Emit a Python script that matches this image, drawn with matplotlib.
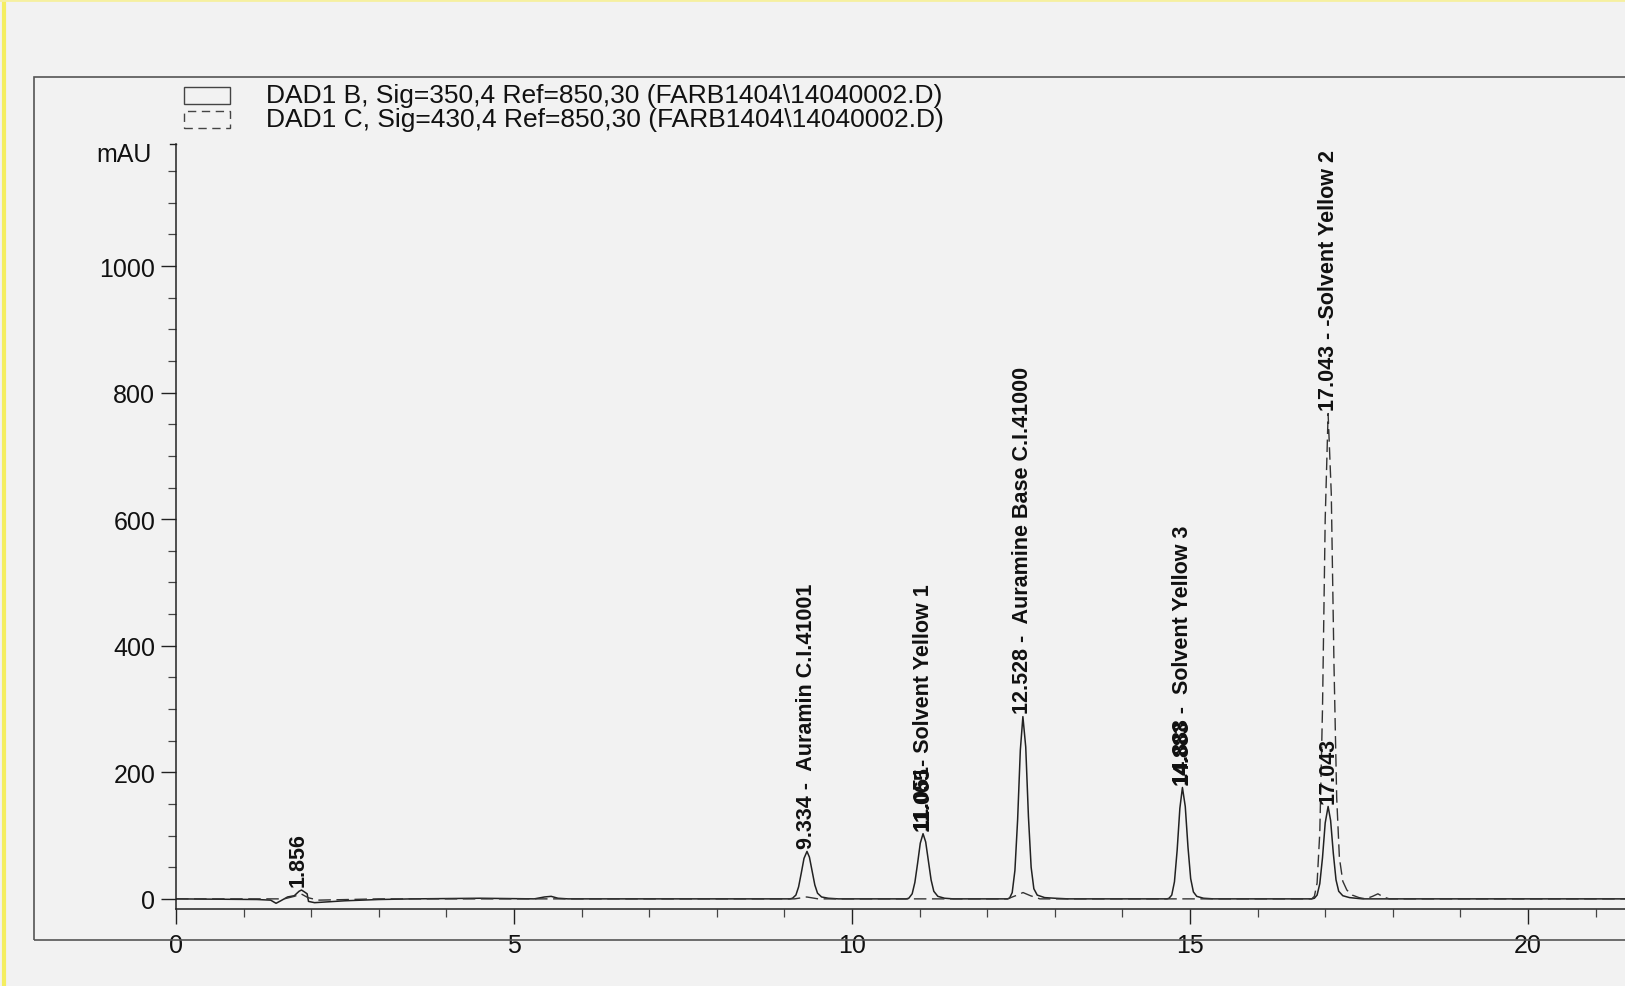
import matplotlib
matplotlib.use("Agg")
import matplotlib.pyplot as plt
from matplotlib.patches import Rectangle
from matplotlib.lines import Line2D
from matplotlib.ticker import MultipleLocator

plt.rcParams['font.family'] = ['Liberation Sans', 'DejaVu Sans']

# ---- data ----
legend_labels = [
    "DAD1 B, Sig=350,4 Ref=850,30 (FARB1404\\14040002.D)",
    "DAD1 C, Sig=430,4 Ref=850,30 (FARB1404\\14040002.D)",
]

# Signal B (solid trace) - time [min], absorbance [mAU]
b_time = [0.0, 1.2, 1.40, 1.48, 1.55, 1.65, 1.75, 1.82, 1.856, 1.90, 1.94, 1.96, 2.05, 2.2, 2.5, 3.0, 3.5,
          4.5, 5.3, 5.45, 5.55, 5.65, 5.8,
          9.08, 9.12, 9.17, 9.21, 9.25, 9.29, 9.334, 9.37, 9.41, 9.45, 9.49, 9.55, 9.65, 9.8,
          10.80, 10.84, 10.89, 10.93, 10.97, 11.01, 11.051, 11.09, 11.13, 11.17, 11.21, 11.27, 11.37, 11.5,
          12.30, 12.33, 12.37, 12.41, 12.45, 12.49, 12.528, 12.57, 12.61, 12.65, 12.69, 12.74, 12.85, 13.0, 13.2,
          14.66, 14.69, 14.73, 14.77, 14.81, 14.85, 14.888, 14.93, 14.97, 15.01, 15.05, 15.10, 15.2, 15.35,
          16.80, 16.84, 16.88, 16.92, 16.96, 17.00, 17.043, 17.08, 17.12, 17.16, 17.20, 17.26, 17.36, 17.55,
          21.5]
b_mau = [0, -1, -2, -7, -3, 3, 5, 12, 14, 11, 8, -4, -6, -5, -3, -1, 0,
         1, 0, 3, 4, 1, 0,
         0, 1, 6, 19, 41, 64, 75, 66, 44, 22, 9, 3, 1, 0,
         0, 1, 8, 26, 56, 88, 103, 90, 60, 30, 12, 4, 1, 0,
         0, 1, 10, 45, 125, 235, 288, 240, 130, 50, 16, 6, 2, 1, 0,
         0, 1, 6, 27, 77, 143, 176, 146, 82, 32, 11, 4, 1, 0,
         0, 1, 6, 24, 65, 120, 146, 124, 72, 30, 12, 5, 2, 0,
         0]

# Signal C (dashed trace)
c_time = [0.0, 1.6, 1.75, 1.85, 1.95, 2.1, 3.0,
          9.15, 9.33, 9.50,
          12.30, 12.42, 12.53, 12.64, 12.78,
          16.80, 16.84, 16.88, 16.92, 16.96, 17.00, 17.043, 17.09, 17.13, 17.17, 17.21, 17.26, 17.32, 17.40, 17.5,
          17.6, 17.7, 17.78, 17.86, 17.95, 21.5]
c_mau = [0, 0, 4, 8, 2, -2, 0,
         0, 3, 0,
         0, 5, 10, 5, 0,
         0, 4, 25, 105, 300, 600, 767, 640, 370, 160, 65, 28, 14, 6, 2,
         0, 4, 8, 3, 0, 0]

# Peak annotations: (x, y, text)
peak_labels = [
    (1.80, 16, "1.856"),
    (9.334, 77, "9.334 -  Auramin C.I.41001"),
    (11.051, 105, "11.051- Solvent Yellow 1"),
    (11.051, 105, "11.065"),
    (12.528, 290, "12.528 -  Auramine Base C.I.41000"),
    (14.888, 178, "14.888 -  Solvent Yellow 3"),
    (14.888, 178, "14.883"),
    (17.043, 148, "17.043"),
    (17.043, 769, "17.043 - -Solvent Yellow 2"),
]

x_major = 5
x_minor = 1
y_minor = 50
y_ticks = [0, 200, 400, 600, 800, 1000]

# ---- figure ----
W, H = 1625, 987
bg = '#f2f2f2'
fig = plt.figure(figsize=(W / 100, H / 100), dpi=100, facecolor=bg)

# outer frame of the printout
fig.patches.append(Rectangle((34 / W, 1 - 941 / H), 1.2, (941 - 78) / H,
                             transform=fig.transFigure, fill=False,
                             edgecolor='#555555', linewidth=1.2))
# scanner edge
fig.add_artist(Line2D([4 / W, 4 / W], [0, 1], transform=fig.transFigure,
                      color='#f4ee60', linewidth=3))
fig.add_artist(Line2D([0, 1], [1 - 1 / H, 1 - 1 / H], transform=fig.transFigure,
                      color='#f6f0a0', linewidth=2))

ax = fig.add_axes([176 / W, 1 - 910 / H, 1 - 176 / W, (910 - 145) / H])
ax.patch.set_alpha(0)

ax.plot(b_time, b_mau, color='#222222', linewidth=1.1)
ax.plot(c_time, c_mau, color='#333333', linewidth=1.0, linestyle=(0, (9, 4)))

ax.set_xlim(0, (W - 176) / 67.6)
ax.set_ylim(-16, 1193)

for s in ['top', 'right']:
    ax.spines[s].set_visible(False)
for s in ['left', 'bottom']:
    ax.spines[s].set_color('#222222')
    ax.spines[s].set_linewidth(1.1)

ax.xaxis.set_major_locator(MultipleLocator(x_major))
ax.xaxis.set_minor_locator(MultipleLocator(x_minor))
ax.yaxis.set_minor_locator(MultipleLocator(y_minor))
ax.set_yticks(y_ticks)
ax.tick_params(axis='both', which='major', labelsize=18, length=11, width=1.0,
               color='#222222', labelcolor='#111111', direction='out')
ax.tick_params(axis='both', which='minor', length=6, width=0.9, color='#444444',
               direction='out')
ax.tick_params(axis='y', which='major', pad=4)
ax.tick_params(axis='x', which='major', pad=6)

# top end tick of the y axis
ax.plot([-0.09, 0], [1193, 1193], color='#222222', linewidth=1.0,
        clip_on=False)

fig.text(96 / W, 1 - 155 / H, "mAU", fontsize=18,
         color='#111111', ha='left', va='center')

for x, y, t in peak_labels:
    ax.text(x, y + 4, t, rotation=90, ha='center', va='bottom', fontsize=15.5,
            fontweight='bold', color='#111111')

# legend drawn as in the printout
box_x0, box_w, box_h = 184 / W, 46 / W, 17 / H
rows_y = [1 - 96 / H, 1 - 120 / H]
styles = ['solid', (0, (6, 4))]
for yc, lab, ls in zip(rows_y, legend_labels, styles):
    fig.patches.append(Rectangle((box_x0, yc - box_h / 2), box_w, box_h,
                                 transform=fig.transFigure, fill=False,
                                 edgecolor='#444444', linewidth=1.0,
                                 linestyle=ls))
    fig.text(266 / W, yc, lab, fontsize=19, color='#111111', ha='left',
             va='center')

fig.savefig('out.png', dpi=100, facecolor=bg)
